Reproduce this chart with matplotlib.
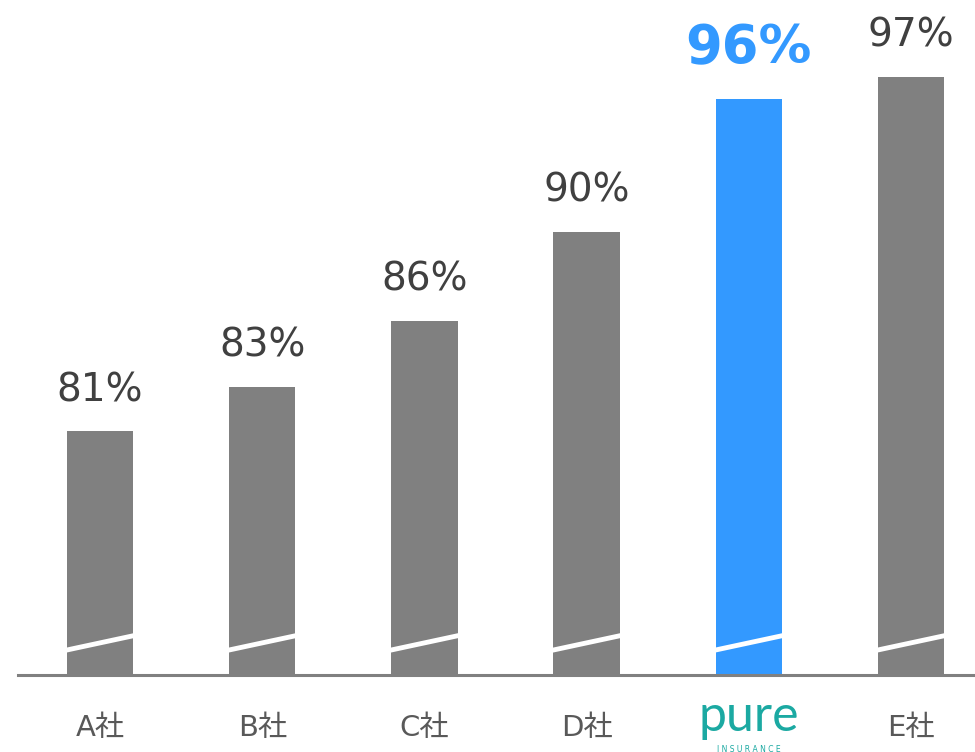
import matplotlib
matplotlib.use('Agg')
import matplotlib.pyplot as plt

plt.rcParams['font.family'] = ['DejaVu Sans', 'Noto Sans CJK JP']

# データ
companies = ['A社', 'B社', 'C社', 'D社', 'pure', 'E社']
values = [81, 83, 86, 90, 96, 97]
highlight = 'pure'

gray = '#808080'
blue = '#3399FF'
teal = '#1BA9A2'

fig = plt.figure(figsize=(9.75, 7.52), dpi=100)
ax = fig.add_axes([18 / 975, 1 - 675 / 752, 1 - 18 / 975, 675 / 752])

x = list(range(len(companies)))
colors = [blue if c == highlight else gray for c in companies]
ax.bar(x, values, width=0.41, color=colors, bottom=0)

ax.set_xlim(-0.506, 5.395)
ax.set_ylim(70, 70 + 675 / 22.15)

# 省略線 (axis break)
for xi in x:
    ax.plot([xi - 0.21, xi + 0.21], [71.12, 71.78], color='white', lw=3.5,
            solid_capstyle='butt', zorder=3)

# 値ラベル
for xi, v, c in zip(x, values, companies):
    if c == highlight:
        ax.annotate(f'{v}%', (xi, v), xytext=(0, 18), textcoords='offset points',
                    ha='center', va='bottom', fontsize=38, fontweight='bold', color=blue)
    else:
        ax.annotate(f'{v}%', (xi, v), xytext=(0, 16), textcoords='offset points',
                    ha='center', va='bottom', fontsize=28, color='#404040')

for s in ['top', 'right', 'left']:
    ax.spines[s].set_visible(False)
ax.spines['bottom'].set_color(gray)
ax.spines['bottom'].set_linewidth(2.2)
ax.set_yticks([])
ax.set_xticks(x)
ax.set_xticklabels(['' if c == highlight else c for c in companies],
                   fontsize=21, color='#595959')
ax.tick_params(axis='x', length=0, pad=28)

# pure ロゴ (テキスト)
hx = companies.index(highlight)
lx = (18 + (hx + 0.506) / 5.901 * 957) / 975
fig.text(lx, 35 / 752, 'pure', ha='center', va='center',
         fontsize=36, color=teal, family='Lato')
fig.text(lx, 3 / 752, 'I N S U R A N C E', ha='center', va='center',
         fontsize=5.5, color=teal)

fig.savefig('out.png', dpi=100)
